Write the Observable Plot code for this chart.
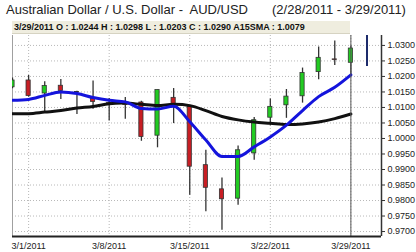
<!DOCTYPE html>
<html><head><meta charset="utf-8">
<script src="https://cdn.jsdelivr.net/npm/d3@7"></script>
<script src="https://cdn.jsdelivr.net/npm/@observablehq/plot@0.6"></script>
<style>
body{margin:0;background:#fff;font-family:"Liberation Sans",Arial,sans-serif}
#wrap{position:relative;width:416px;height:252px;overflow:hidden}
.t{position:absolute;top:2px;font-size:13px;color:#222;white-space:pre}
#info{position:absolute;left:12px;top:21px;width:338px;height:13px;background:#efeddf;border-bottom:1px solid #d6d3c2;font-weight:bold;font-size:9px;line-height:13px;color:#111;padding-left:2px;box-sizing:border-box;white-space:pre;z-index:2}
#chart{position:absolute;left:0;top:20px}
</style></head>
<body><div id="wrap">
<div class="t" id="title" style="left:6px">Australian Dollar / U.S. Dollar -  AUD/USD</div>
<div class="t" id="range" style="left:272px">(2/28/2011 - 3/29/2011)</div>
<div id="info"></div>
<div id="chart"></div>
</div>
<script>
const dates = ["2/28/2011","3/1/2011","3/2/2011","3/3/2011","3/4/2011","3/7/2011","3/8/2011","3/9/2011","3/10/2011","3/11/2011","3/14/2011","3/15/2011","3/16/2011","3/17/2011","3/18/2011","3/21/2011","3/22/2011","3/23/2011","3/24/2011","3/25/2011","3/28/2011","3/29/2011"];
const open  = [1.0165,1.0187,1.0145,1.0170,1.0150,1.0129,1.0114,1.0112,1.0116,1.0009,1.0131,1.0102,0.9914,0.9836,0.9806,0.9952,1.0067,1.0107,1.0136,1.0214,1.0255,1.0244];
const high  = [1.0195,1.0203,1.0183,1.0190,1.0152,1.0185,1.0129,1.0132,1.0120,1.0156,1.0161,1.0102,0.9962,0.9873,0.9976,1.0068,1.0127,1.0158,1.0227,1.0295,1.0314,1.0298];
const low   = [1.0160,1.0133,1.0084,1.0126,1.0077,1.0094,1.0056,1.0062,0.9991,0.9970,1.0048,0.9817,0.9764,0.9704,0.9785,0.9930,1.0041,1.0065,1.0114,1.0189,1.0235,1.0203];
const close = [1.0187,1.0137,1.0169,1.0153,1.0148,1.0118,1.0112,1.0108,1.0005,1.0156,1.0111,0.9909,0.9841,0.9804,0.9962,1.0059,1.0102,1.0135,1.0211,1.0260,1.0253,1.0290];
const fastMA = [1.0123,1.0126,1.0139,1.0150,1.0145,1.0132,1.0123,1.0118,1.0097,1.0095,1.0104,1.0054,0.9995,0.9942,0.9942,0.9973,1.0005,1.0043,1.0090,1.0135,1.0165,1.0205];
const sma15 = [1.0080,1.0080,1.0085,1.0090,1.0098,1.0103,1.0112,1.0114,1.0110,1.0106,1.0110,1.0106,1.0090,1.0071,1.0060,1.0053,1.0049,1.0045,1.0047,1.0053,1.0064,1.0079];
const pendingHigh = [1.0332];
const pendingLow = [1.0232];
const xTickLabels = ["3/1/2011","3/8/2011","3/15/2011","3/22/2011","3/29/2011"];
const yTicks = [0.9700,0.9750,0.9800,0.9850,0.9900,0.9950,1.0000,1.0050,1.0100,1.0150,1.0200,1.0250,1.0300];

const rows = dates.map((d,i)=>({i, date:d, o:open[i], h:high[i], l:low[i], c:close[i], f:fastMA[i], s:sma15[i]}));
const last = rows[rows.length-1];
document.getElementById("info").textContent =
  `${last.date} O : ${last.o.toFixed(4)} H : ${last.h.toFixed(4)} L : ${last.l.toFixed(4)} C : ${last.c.toFixed(4)} A15SMA : ${last.s.toFixed(4)}`;
const pend = [{i: dates.length, h: pendingHigh[0], l: pendingLow[0]}];
const tickIdx = xTickLabels.map(t => dates.indexOf(t));
const hw = 0.13;

const chart = Plot.plot({
  width: 416, height: 232,
  marginLeft: 12, marginRight: 35, marginTop: 15, marginBottom: 16,
  style: {fontFamily: "'Liberation Sans', Arial, sans-serif", background: "transparent", color: "#222"},
  x: {type: "linear", domain: [0, 22.9], axis: null},
  y: {domain: [0.9684, 1.0332], axis: null},
  marks: [
    Plot.gridY(yTicks, {stroke: "#b8b8b8", strokeOpacity: 1, strokeDasharray: "1,2"}),
    Plot.gridX(tickIdx, {stroke: "#b8b8b8", strokeOpacity: 1, strokeDasharray: "1,2"}),
    Plot.ruleX([0], {stroke: "#a0a0a0", strokeWidth: 1}),
    Plot.ruleX(rows, {x: "i", y1: "l", y2: "h", stroke: "#333", strokeWidth: 1.3, clip: true}),
    Plot.rect(rows, {x1: d => d.i - hw, x2: d => d.i + hw, y1: "o", y2: "c",
      fill: d => d.c >= d.o ? "#22cc22" : "#c81e24", stroke: "#333", strokeWidth: 0.8, clip: true}),
    Plot.line(rows, {x: "i", y: "s", stroke: "#111", strokeWidth: 3, curve: "catmull-rom", clip: true}),
    Plot.line(rows, {x: "i", y: "f", stroke: "#1414dc", strokeWidth: 3, curve: "monotone-x", clip: true}),
    Plot.ruleX([last], {x: "i", stroke: "#555", strokeWidth: 1}),
    Plot.ruleX(pend, {x: "i", y1: "l", y2: "h", stroke: "#1d2b6b", strokeWidth: 2, clip: true}),
    Plot.ruleY([0.9684], {stroke: "#222", strokeWidth: 2}),
    Plot.ruleX([22.9], {stroke: "#333", strokeWidth: 1.5}),
    Plot.axisY(yTicks, {anchor: "right", tickFormat: d => d.toFixed(4), tickSize: 3, tickPadding: 3, fontSize: 9, stroke: "#333", label: null}),
    Plot.axisX(tickIdx, {anchor: "bottom", tickFormat: i => dates[i], tickSize: 0, tickPadding: 6, fontSize: 9, label: null})
  ]
});
document.getElementById("chart").appendChild(chart);
</script>
</body></html>
